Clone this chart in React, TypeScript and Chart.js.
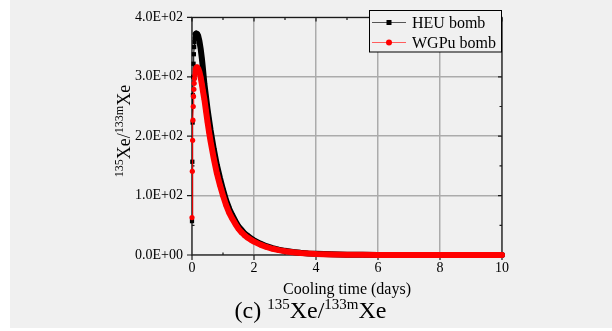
import React, { useEffect, useRef } from "react";
import { Chart, registerables } from "chart.js";

Chart.register(...registerables);

// ---- data ----
const SERIES_NAMES = ["HEU bomb", "WGPu bomb"];
const X_TITLE = "Cooling time (days)";
const X_TICKS = [0, 2, 4, 6, 8, 10];
const Y_TICKS = [0, 100, 200, 300, 400];

const HEU_DAYS = [
  0, 0.01, 0.02, 0.03, 0.04, 0.05, 0.06, 0.07, 0.08, 0.09, 0.1, 0.12, 0.14,
  0.17, 0.2, 0.24, 0.28, 0.32, 0.35, 0.4, 0.45, 0.5, 0.55, 0.6, 0.7, 0.8, 0.9,
  1.0, 1.1, 1.2, 1.3, 1.4, 1.5, 1.6, 1.7, 1.8, 1.9, 2.0, 2.2, 2.4, 2.6, 2.8,
  3.0, 3.25, 3.5, 3.75, 4.0, 4.5, 5, 5.5, 6, 7, 8, 9, 10,
];
const HEU_RATIO = [
  57, 157, 223, 269, 300, 322, 338, 350, 358, 364, 368, 372, 373,
  372, 369, 360, 347, 330, 315, 288, 267, 246, 228, 210, 179, 152, 130,
  110, 92, 78, 67, 57, 48, 42, 36, 32, 28, 24.8, 19.2, 14.8, 11.5, 9,
  7, 5.2, 3.7, 2.7, 2.0, 1.1, 0.6, 0.33, 0.19, 0.055, 0.02, 0.005, 0.002,
];

const WGPU_DAYS = [
  0, 0.01, 0.02, 0.03, 0.04, 0.05, 0.06, 0.07, 0.08, 0.09, 0.1, 0.12, 0.15,
  0.17, 0.2, 0.24, 0.28, 0.32, 0.35, 0.4, 0.45, 0.5, 0.55, 0.6, 0.7, 0.8, 0.9,
  1.0, 1.1, 1.2, 1.3, 1.4, 1.5, 1.6, 1.7, 1.8, 1.9, 2.0, 2.2, 2.4, 2.6, 2.8,
  3.0, 3.25, 3.5, 3.75, 4.0, 4.5, 5, 5.5, 6, 7, 8, 9, 10,
];
const WGPU_RATIO = [
  63, 141, 193, 227, 250, 267, 279, 289, 297, 303, 308, 313, 316,
  316, 314, 308, 299, 287, 277, 262, 243, 224, 207, 191, 163, 138, 118,
  100, 84, 71, 61, 52, 44, 38, 33, 29, 25.5, 22.5, 17.5, 13.5, 10.5, 8.2,
  6.4, 4.7, 3.4, 2.5, 1.8, 1.0, 0.55, 0.3, 0.17, 0.05, 0.02, 0.005, 0.002,
];

const HEU_PEAK_DAY = 0.12;
const WGPU_PEAK_DAY = 0.12;

const Y_TITLE_PARTS = [
  { t: "135", sup: true },
  { t: "Xe/", sup: false },
  { t: "133m", sup: true },
  { t: "Xe", sup: false },
];
const CAPTION_PARTS = [
  { t: "(c) ", sup: false },
  { t: "135", sup: true },
  { t: "Xe/", sup: false },
  { t: "133m", sup: true },
  { t: "Xe", sup: false },
];

// ---- styling ----
const SERIF = "'Liberation Serif', 'Times New Roman', serif";
const BG = "#f0f0f0";

function fmtSci(v: number): string {
  if (v === 0) return "0.0E+00";
  const e = Math.floor(Math.log10(Math.abs(v)));
  const m = v / Math.pow(10, e);
  return `${m.toFixed(1)}E${e < 0 ? "-" : "+"}${String(Math.abs(e)).padStart(2, "0")}`;
}

function drawRich(
  ctx: CanvasRenderingContext2D,
  parts: { t: string; sup: boolean }[],
  cx: number,
  baseline: number,
  mainSize: number,
  supSize: number,
  rise: number
) {
  const widths = parts.map((p) => {
    ctx.font = `${p.sup ? supSize : mainSize}px ${SERIF}`;
    return ctx.measureText(p.t).width;
  });
  const total = widths.reduce((a, b) => a + b, 0);
  let x = cx - total / 2;
  ctx.textAlign = "left";
  ctx.textBaseline = "alphabetic";
  ctx.fillStyle = "#000";
  parts.forEach((p, i) => {
    ctx.font = `${p.sup ? supSize : mainSize}px ${SERIF}`;
    ctx.fillText(p.t, x, baseline - (p.sup ? rise : 0));
    x += widths[i];
  });
}

const decorPlugin = {
  id: "decor",
  beforeDraw(chart: any) {
    const ctx = chart.ctx as CanvasRenderingContext2D;
    ctx.save();
    ctx.fillStyle = "#ffffff";
    ctx.fillRect(0, 0, chart.width, chart.height);
    ctx.fillStyle = BG;
    ctx.fillRect(10, 0, chart.width - 10, 328);
    ctx.restore();
  },
  beforeDatasetsDraw(chart: any) {
    const ctx = chart.ctx as CanvasRenderingContext2D;
    const a = chart.chartArea;
    const xs = chart.scales.x;
    const ys = chart.scales.y;
    ctx.save();
    ctx.strokeStyle = "#1a1a1a";
    ctx.lineWidth = 1.2;
    ctx.strokeRect(a.left, a.top, a.right - a.left, a.bottom - a.top);
    ctx.beginPath();
    X_TICKS.forEach((t, i) => {
      const px = xs.getPixelForValue(t);
      ctx.moveTo(px, a.bottom);
      ctx.lineTo(px, a.bottom + 5);
      ctx.moveTo(px, a.top);
      ctx.lineTo(px, a.top + 4);
      if (i < X_TICKS.length - 1) {
        const m = xs.getPixelForValue((t + X_TICKS[i + 1]) / 2);
        ctx.moveTo(m, a.bottom);
        ctx.lineTo(m, a.bottom - 2.5);
        ctx.moveTo(m, a.top);
        ctx.lineTo(m, a.top + 2.5);
      }
    });
    Y_TICKS.forEach((t, i) => {
      const py = ys.getPixelForValue(t);
      ctx.moveTo(a.left - 5, py);
      ctx.lineTo(a.left, py);
      ctx.moveTo(a.right - 4, py);
      ctx.lineTo(a.right, py);
      if (i < Y_TICKS.length - 1) {
        const m = ys.getPixelForValue((t + Y_TICKS[i + 1]) / 2);
        ctx.moveTo(a.left, m);
        ctx.lineTo(a.left + 2.5, m);
        ctx.moveTo(a.right - 2.5, m);
        ctx.lineTo(a.right, m);
      }
    });
    ctx.stroke();
    ctx.restore();
  },
  afterDraw(chart: any) {
    const ctx = chart.ctx as CanvasRenderingContext2D;
    ctx.save();
    // legend box
    const lx = 369.5, ly = 10.5, lw = 132, lh = 41.5;
    ctx.fillStyle = BG;
    ctx.fillRect(lx, ly, lw, lh);
    ctx.strokeStyle = "#000";
    ctx.lineWidth = 1;
    ctx.strokeRect(lx, ly, lw, lh);
    const rows = [22.5, 42.5];
    const lineCols = ["#555555", "#ff5c5c"];
    rows.forEach((ry, i) => {
      ctx.beginPath();
      ctx.strokeStyle = lineCols[i];
      ctx.lineWidth = 1;
      ctx.moveTo(372, ry);
      ctx.lineTo(406, ry);
      ctx.stroke();
      if (i === 0) {
        ctx.fillStyle = "#000";
        ctx.fillRect(386.5, ry - 2.5, 5, 5);
      } else {
        ctx.fillStyle = "#ff0000";
        ctx.beginPath();
        ctx.arc(389, ry, 3, 0, Math.PI * 2);
        ctx.fill();
      }
      ctx.fillStyle = "#000";
      ctx.font = `16px ${SERIF}`;
      ctx.textAlign = "left";
      ctx.textBaseline = "alphabetic";
      ctx.fillText(SERIES_NAMES[i], 412, ry + 5);
    });
    // y axis title (rotated)
    ctx.save();
    ctx.translate(130, 131);
    ctx.rotate(-Math.PI / 2);
    drawRich(ctx, Y_TITLE_PARTS, 0, 0, 18, 12, 7);
    ctx.restore();
    // caption
    drawRich(ctx, CAPTION_PARTS, 310.5, 318, 24, 15, 9);
    ctx.restore();
  },
};

export default function App() {
  const canvasRef = useRef<HTMLCanvasElement | null>(null);

  useEffect(() => {
    const canvas = canvasRef.current;
    if (!canvas) return;
    const chart = new Chart(canvas, {
      type: "line",
      data: {
        datasets: [
          {
            label: SERIES_NAMES[0],
            data: HEU_DAYS.map((d, i) => ({ x: d, y: HEU_RATIO[i] })),
            borderColor: "#000000",
            backgroundColor: "#000000",
            pointBackgroundColor: "#000000",
            pointStyle: "rect",
            pointRadius: 3,
            pointBorderWidth: 0,
            borderWidth: 6,
            borderJoinStyle: "round",
            borderCapStyle: "round",
            tension: 0,
            fill: false,
            clip: false,
            order: 2,
            segment: {
              borderWidth: (c: any) => (c.p0.parsed.x >= HEU_PEAK_DAY ? 6 : 1),
            },
          } as any,
          {
            label: SERIES_NAMES[1],
            data: WGPU_DAYS.map((d, i) => ({ x: d, y: WGPU_RATIO[i] })),
            borderColor: "#ff0000",
            backgroundColor: "#ff0000",
            pointBackgroundColor: "#ff0000",
            pointStyle: "circle",
            pointRadius: 2.6,
            pointBorderWidth: 0,
            borderWidth: 6,
            borderJoinStyle: "round",
            borderCapStyle: "round",
            tension: 0,
            fill: false,
            clip: false,
            order: 1,
            segment: {
              borderWidth: (c: any) => (c.p0.parsed.x >= WGPU_PEAK_DAY ? 6 : 1),
            },
          } as any,
        ],
      },
      options: {
        animation: false,
        responsive: false,
        devicePixelRatio: 1,
        events: [],
        layout: { padding: { left: 0, top: 10, right: 110, bottom: 0 } },
        plugins: {
          legend: { display: false },
          tooltip: { enabled: false },
          title: { display: false },
        },
        scales: {
          x: {
            type: "linear",
            min: 0,
            max: 10,
            afterBuildTicks: (s: any) => {
              s.ticks = X_TICKS.map((v) => ({ value: v }));
            },
            ticks: {
              font: { family: SERIF, size: 14 },
              color: "#000",
              padding: 5,
              maxRotation: 0,
              autoSkip: false,
            },
            grid: { color: "#ababab", lineWidth: 1.5, drawTicks: false },
            border: { display: false },
            title: {
              display: true,
              text: X_TITLE,
              font: { family: SERIF, size: 16 },
              color: "#000",
              padding: { top: 0, bottom: 32 },
            },
            afterFit: (s: any) => {
              s.height = 76;
            },
          },
          y: {
            type: "linear",
            min: 0,
            max: 400,
            afterBuildTicks: (s: any) => {
              s.ticks = Y_TICKS.map((v) => ({ value: v }));
            },
            ticks: {
              font: { family: SERIF, size: 14 },
              color: "#000",
              padding: 9,
              callback: (v: any) => fmtSci(Number(v)),
            },
            grid: { color: "#ababab", lineWidth: 1.5, drawTicks: false },
            border: { display: false },
            afterFit: (s: any) => {
              s.width = 192;
            },
          },
        },
      } as any,
      plugins: [decorPlugin],
    });
    return () => chart.destroy();
  }, []);

  return (
    <div style={{ position: "fixed", left: 0, top: 0, width: 612, height: 331 }}>
      <canvas ref={canvasRef} width={612} height={331} style={{ display: "block" }} />
    </div>
  );
}
